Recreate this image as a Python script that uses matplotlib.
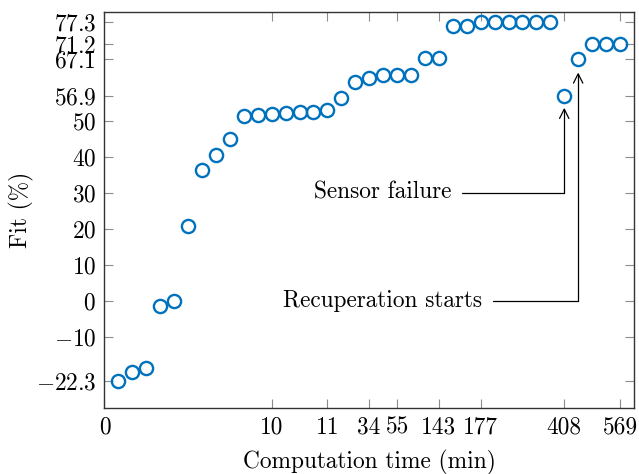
import matplotlib
matplotlib.use("Agg")
import matplotlib.pyplot as plt

plt.rcParams['font.family'] = 'serif'
plt.rcParams['font.serif'] = ['cmr10']
plt.rcParams['mathtext.fontset'] = 'cm'
plt.rcParams['axes.unicode_minus'] = False

# fit per refinement step (points are evenly spaced by step index)
step = list(range(1, 38))
fit = [-22.3, -19.7, -18.6, -1.5, 0.0, 20.7, 36.4, 40.6, 44.8, 51.3,
       51.6, 51.9, 52.2, 52.3, 52.3, 53.0, 56.3, 60.7, 61.8, 62.6,
       62.7, 62.7, 67.5, 67.5, 76.3, 76.4, 77.3, 77.3, 77.3, 77.3,
       77.3, 77.3, 56.9, 67.1, 71.2, 71.2, 71.2]

# x ticks: step index -> computation time label
xtick_pos = [0, 12, 16, 19, 21, 24, 27, 33, 37]
xtick_lab = ['0', '10', '11', '34', '55', '143', '177', '408', '569']
ytick_val = [-22.3, -10, 0, 10, 20, 30, 40, 50, 56.9, 67.1, 71.2, 77.3]
ytick_lab = ['$-22.3$', '$-10$', '$0$', '$10$', '$20$', '$30$', '$40$', '$50$',
             '$56.9$', '$67.1$', '$71.2$', '$77.3$']

failure_idx = 33
recup_idx = 34
fs = 16.8

fig = plt.figure(figsize=(6.39, 4.74), dpi=100)
ax = fig.add_axes([0.1635, 0.139, 0.8285, 0.8357])

ax.plot(step, fit, 'o', ms=9.5, mfc='none', mec='#0072bd', mew=1.7)

ax.set_xlim(0, 38)
ax.set_ylim(-29.8, 80.2)
ax.set_xticks(xtick_pos)
ax.set_xticklabels(xtick_lab)
ax.set_yticks(ytick_val)
ax.set_yticklabels(ytick_lab)
ax.tick_params(direction='in', length=6.5, width=0.8, color='0.55',
               labelsize=fs, top=True, right=True, pad=6)
for s in ax.spines.values():
    s.set_color('0.2')
    s.set_linewidth(1.0)

ax.set_xlabel('Computation time (min)', fontsize=fs, labelpad=8)
ax.set_ylabel('Fit (%)', fontsize=fs, labelpad=1)

ax.annotate('Sensor failure', xy=(failure_idx, fit[failure_idx - 1]),
            xytext=(24.9, 30), ha='right', va='center', fontsize=fs,
            arrowprops=dict(arrowstyle='->', color='black', lw=0.9,
                            shrinkA=6, shrinkB=8.5,
                            connectionstyle='angle,angleA=0,angleB=90,rad=0'))
ax.annotate('Recuperation starts', xy=(recup_idx, fit[recup_idx - 1]),
            xytext=(27.1, 0), ha='right', va='center', fontsize=fs,
            arrowprops=dict(arrowstyle='->', color='black', lw=0.9,
                            shrinkA=6, shrinkB=9.5,
                            connectionstyle='angle,angleA=0,angleB=90,rad=0'))

fig.savefig('out.png', dpi=100)
